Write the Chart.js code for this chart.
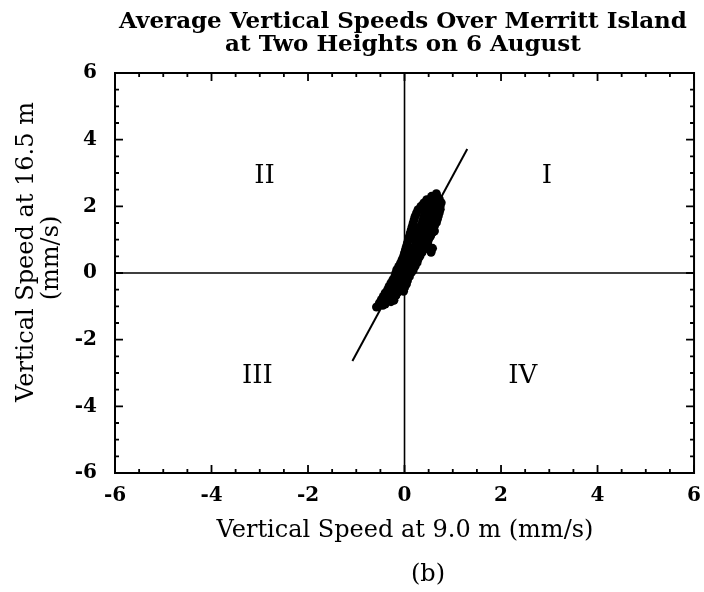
<!DOCTYPE html>
<html>
<head>
<meta charset="utf-8">
<title>Average Vertical Speeds Over Merritt Island</title>
<script src="https://cdn.jsdelivr.net/npm/chart.js@4.4.1/dist/chart.umd.min.js"></script>
<style>
    body { margin: 0; background: #fff; }
    canvas { display: block; }
</style>
</head>
<body>
<canvas id="speedChart" width="704" height="592"></canvas>
<script>
// text
const titleLines = ['Average Vertical Speeds Over Merritt Island', 'at Two Heights on 6 August'];
const xTitle = 'Vertical Speed at 9.0 m (mm/s)';
const yTitleLines = ['Vertical Speed at 16.5 m', '(mm/s)'];
const panelLabel = '(b)';

// axes
const axisMin = -6;
const axisMax = 6;
const tickStep = 2;

// averaged speeds (mm/s), one row per height band
const speed9 = [
    -0.58, -0.45,
    -0.52, -0.40, -0.28,
    -0.48, -0.36, -0.22,
    -0.44, -0.32, -0.18,
    -0.40, -0.28, -0.14,
    -0.35, -0.24, -0.10, -0.02,
    -0.32, -0.20, -0.08, 0.00,
    -0.28, -0.16, -0.05, 0.04,
    -0.24, -0.13, -0.02, 0.06,
    -0.20, -0.10, 0.00, 0.10,
    -0.18, -0.07, 0.03, 0.14,
    -0.16, -0.04, 0.06, 0.18,
    -0.12, -0.01, 0.10, 0.22,
    -0.08, 0.02, 0.14, 0.26,
    -0.05, 0.06, 0.18, 0.28,
    -0.02, 0.10, 0.22, 0.32,
    0.00, 0.13, 0.26, 0.36, 0.55,
    0.02, 0.16, 0.30, 0.40, 0.58,
    0.04, 0.20, 0.34, 0.44,
    0.06, 0.24, 0.38, 0.48,
    0.08, 0.22, 0.36, 0.50,
    0.10, 0.24, 0.40, 0.54,
    0.12, 0.28, 0.44, 0.58, 0.62,
    0.14, 0.30, 0.46, 0.60,
    0.16, 0.32, 0.48, 0.62,
    0.18, 0.36, 0.52, 0.66,
    0.20, 0.38, 0.54, 0.68,
    0.22, 0.40, 0.56, 0.70,
    0.25, 0.42, 0.58, 0.72,
    0.28, 0.46, 0.62, 0.74,
    0.34, 0.50, 0.64, 0.74,
    0.40, 0.54, 0.68, 0.76,
    0.46, 0.60, 0.72,
    0.56, 0.68,
    0.66
];
const speed165 = [
    -1.02, -0.97,
    -0.90, -0.93, -0.86,
    -0.80, -0.78, -0.82,
    -0.70, -0.72, -0.68,
    -0.60, -0.62, -0.58,
    -0.50, -0.52, -0.48, -0.55,
    -0.40, -0.42, -0.38, -0.44,
    -0.30, -0.32, -0.28, -0.33,
    -0.20, -0.22, -0.18, -0.23,
    -0.10, -0.12, -0.08, -0.11,
    0.00, -0.02, 0.02, 0.01,
    0.10, 0.08, 0.12, 0.09,
    0.20, 0.18, 0.22, 0.21,
    0.30, 0.28, 0.32, 0.31,
    0.40, 0.38, 0.42, 0.41,
    0.50, 0.48, 0.52, 0.51,
    0.60, 0.58, 0.62, 0.61, 0.62,
    0.70, 0.68, 0.72, 0.71, 0.74,
    0.80, 0.78, 0.82, 0.81,
    0.90, 0.88, 0.92, 0.91,
    1.00, 0.98, 1.02, 1.01,
    1.10, 1.08, 1.12, 1.11,
    1.20, 1.18, 1.22, 1.21, 1.26,
    1.30, 1.28, 1.32, 1.31,
    1.40, 1.38, 1.42, 1.41,
    1.50, 1.48, 1.52, 1.51,
    1.60, 1.58, 1.62, 1.61,
    1.70, 1.68, 1.72, 1.71,
    1.80, 1.78, 1.82, 1.81,
    1.90, 1.88, 1.92, 1.91,
    2.00, 1.98, 2.02, 2.01,
    2.10, 2.08, 2.12, 2.11,
    2.20, 2.18, 2.22,
    2.30, 2.28,
    2.38
];

// fitted line end points
const fitX = [-1.08, 1.30];
const fitY = [-2.64, 3.72];

// quadrant labels
const quadrantNames = ['I', 'II', 'III', 'IV'];
const quadrantX = [2.95, -2.9, -3.05, 2.45];
const quadrantY = [2.9, 2.9, -3.1, -3.1];

const serif = '"DejaVu Serif", "Liberation Serif", serif';

const scatterPoints = speed9.map((x, i) => ({ x: x, y: speed165[i] }));
const fitPoints = fitX.map((x, i) => ({ x: x, y: fitY[i] }));

// frame, inward ticks, zero lines and all the free text
const decorPlugin = {
    id: 'decor',
    beforeDatasetsDraw(chart) {
        const c = chart.ctx;
        const a = chart.chartArea;
        const x0 = chart.scales.x.getPixelForValue(0);
        const y0 = chart.scales.y.getPixelForValue(0);
        c.save();
        c.strokeStyle = '#000';
        c.lineWidth = 1.6;
        c.beginPath();
        c.moveTo(x0, a.top);
        c.lineTo(x0, a.bottom);
        c.moveTo(a.left, y0);
        c.lineTo(a.right, y0);
        c.stroke();
        c.restore();
    },
    afterDraw(chart) {
        const c = chart.ctx;
        const a = chart.chartArea;
        const xs = chart.scales.x;
        const ys = chart.scales.y;
        c.save();
        c.strokeStyle = '#000';
        c.lineWidth = 2;
        c.strokeRect(a.left, a.top, a.right - a.left, a.bottom - a.top);

        // minor ticks every 0.5, major every 2, all pointing inward
        c.lineWidth = 1.8;
        c.beginPath();
        for (let i = axisMin * 2; i <= axisMax * 2; i++) {
            const v = i / 2;
            const len = v % tickStep === 0 ? 8 : 4;
            const px = xs.getPixelForValue(v);
            const py = ys.getPixelForValue(v);
            c.moveTo(px, a.bottom); c.lineTo(px, a.bottom - len);
            c.moveTo(px, a.top); c.lineTo(px, a.top + len);
            c.moveTo(a.left, py); c.lineTo(a.left + len, py);
            c.moveTo(a.right, py); c.lineTo(a.right - len, py);
        }
        c.stroke();

        c.fillStyle = '#000';
        c.textAlign = 'center';

        // quadrant numerals
        c.textBaseline = 'middle';
        c.font = '26px ' + serif;
        quadrantNames.forEach((name, i) => {
            c.fillText(name, xs.getPixelForValue(quadrantX[i]), ys.getPixelForValue(quadrantY[i]));
        });

        c.textBaseline = 'alphabetic';

        // title
        c.font = 'bold 23px ' + serif;
        c.fillText(titleLines[0], 403, 28);
        c.fillText(titleLines[1], 403, 51);

        // axis titles and panel letter
        c.font = '24px ' + serif;
        c.fillText(xTitle, 405, 537);
        c.fillText(panelLabel, 428, 581);

        c.save();
        c.translate(33, 252);
        c.rotate(-Math.PI / 2);
        c.fillText(yTitleLines[0], 0, 0);
        c.restore();
        c.save();
        c.translate(58, 258);
        c.rotate(-Math.PI / 2);
        c.fillText(yTitleLines[1], 0, 0);
        c.restore();

        c.restore();
    }
};

new Chart(document.getElementById('speedChart'), {
    type: 'scatter',
    data: {
        datasets: [
            {
                label: 'speeds',
                data: scatterPoints,
                backgroundColor: '#000',
                borderColor: '#000',
                pointStyle: 'circle',
                pointRadius: 4.5,
                borderWidth: 0
            },
            {
                type: 'line',
                label: 'fit',
                data: fitPoints,
                borderColor: '#000',
                borderWidth: 2,
                pointRadius: 0,
                fill: false
            }
        ]
    },
    options: {
        responsive: false,
        animation: false,
        devicePixelRatio: 1,
        layout: { padding: { left: 0, right: 7, top: 73, bottom: 0 } },
        plugins: {
            legend: { display: false },
            tooltip: { enabled: false }
        },
        scales: {
            x: {
                type: 'linear',
                min: axisMin,
                max: axisMax,
                grid: { display: false },
                border: { display: false },
                ticks: {
                    stepSize: tickStep,
                    color: '#000',
                    padding: 3,
                    maxRotation: 0,
                    font: { family: serif, size: 20, weight: 'bold' }
                },
                afterFit(scale) { scale.height = 119; }
            },
            y: {
                type: 'linear',
                min: axisMin,
                max: axisMax,
                grid: { display: false },
                border: { display: false },
                ticks: {
                    stepSize: tickStep,
                    color: '#000',
                    padding: 10,
                    font: { family: serif, size: 20, weight: 'bold' }
                },
                afterFit(scale) { scale.width = 115; }
            }
        }
    },
    plugins: [decorPlugin]
});
</script>
</body>
</html>
